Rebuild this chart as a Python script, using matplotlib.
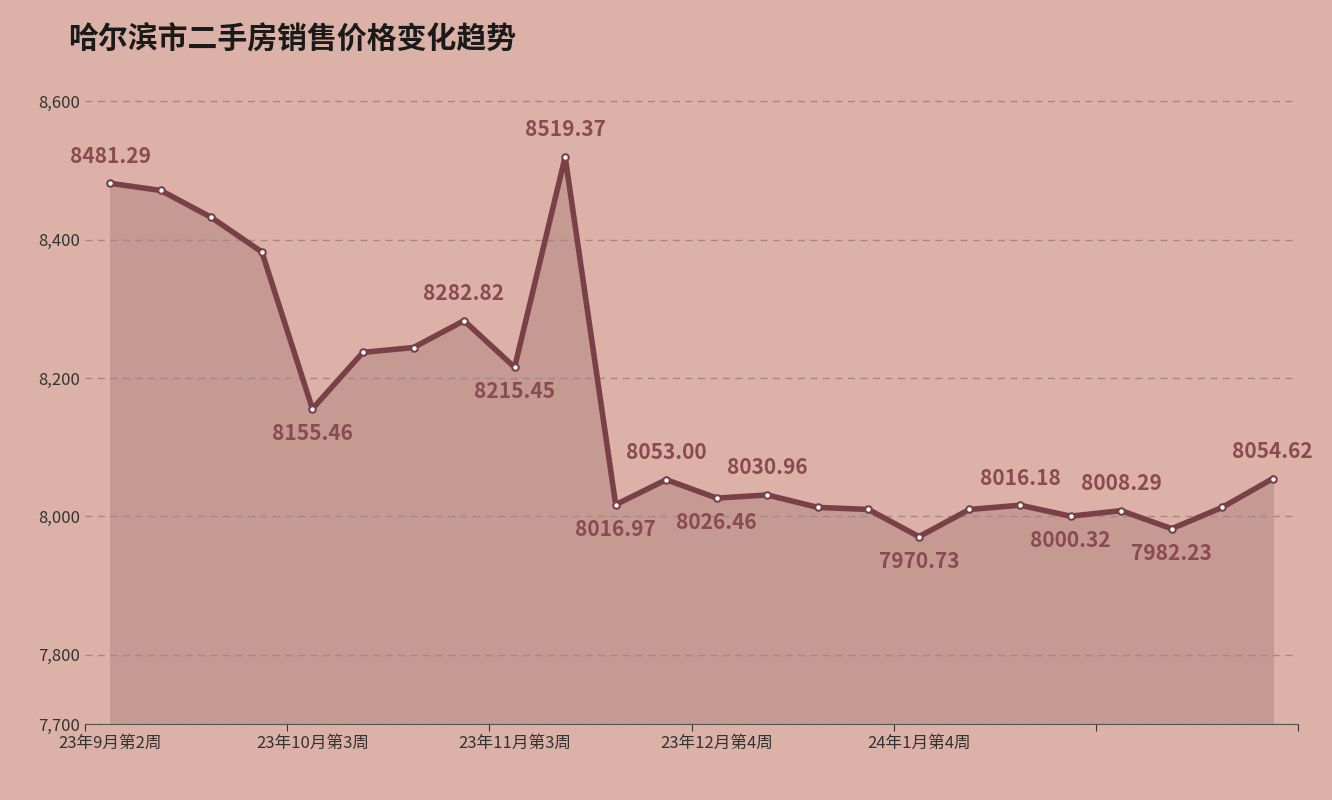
import matplotlib
matplotlib.use("Agg")
import matplotlib.pyplot as plt

plt.rcParams['font.family'] = ['Noto Sans CJK SC', 'DejaVu Sans']

title = "哈尔滨市二手房销售价格变化趋势"
values = [8481.29, 8471, 8432, 8382, 8155.46, 8237, 8244, 8282.82, 8215.45, 8519.37,
          8016.97, 8053.00, 8026.46, 8030.96, 8013, 8010, 7970.73, 8010, 8016.18,
          8000.32, 8008.29, 7982.23, 8013, 8054.62]
tick_labels = ["23年9月第2周", "23年10月第3周", "23年11月第3周", "23年12月第4周", "24年1月第4周"]
tick_idx = [0, 4, 8, 12, 16]
labels_above = [0, 7, 9, 11, 13, 18, 20, 23]
labels_below = [4, 8, 10, 12, 16, 19, 21]
yticks = [7700, 7800, 8000, 8200, 8400, 8600]

bg = '#dcb2a8'
line_c = '#7a4048'
fill_c = '#c49a93'

fig = plt.figure(figsize=(13.32, 8), dpi=100, facecolor=bg)
ax = fig.add_axes([0.0638, 0.095, 0.9107, 0.8045], facecolor=bg)
x = list(range(len(values)))
ax.fill_between(x, values, 7700, color=fill_c, zorder=1)
ax.plot(x, values, color=line_c, lw=4, zorder=3, solid_joinstyle='round')
ax.scatter(x, values, s=22, facecolor='white', edgecolor=line_c, lw=1.5, zorder=4)
ax.set_xlim(-0.5, len(values) - 0.5)
ax.set_ylim(7700, 8630)
ax.set_yticks(yticks)
ax.set_yticklabels([f"{v:,}" for v in yticks], fontsize=12, color='#333333')
for v in yticks:
    ax.axhline(v, color='#a58880', ls=(0, (5, 4)), lw=1, zorder=2)
ax.set_xticks([i - 0.5 for i in range(0, len(values) + 1, 4)])
ax.set_xticklabels([])
ax.set_xticks(tick_idx, minor=True)
ax.set_xticklabels(tick_labels, minor=True, fontsize=12, color='#333333')
ax.tick_params(axis='x', which='minor', length=0, pad=8)
ax.tick_params(axis='x', which='major', length=5, color='#333333')
ax.tick_params(axis='y', length=0)
for s in ['top', 'right', 'left']:
    ax.spines[s].set_visible(False)
ax.spines['bottom'].set_color('#555555')
for i in labels_above:
    ax.annotate(f"{values[i]:.2f}", (i, values[i]), xytext=(0, 12), textcoords='offset points',
                ha='center', va='bottom', fontsize=15, fontweight='bold', color='#8a4a50', zorder=5)
for i in labels_below:
    ax.annotate(f"{values[i]:.2f}", (i, values[i]), xytext=(0, -10), textcoords='offset points',
                ha='center', va='top', fontsize=15, fontweight='bold', color='#8a4a50', zorder=5)
fig.text(0.051, 0.95, title, fontsize=21.5, fontweight='bold', color='#1a1a1a', va='center')
fig.savefig('out.png', dpi=100, facecolor=bg)
